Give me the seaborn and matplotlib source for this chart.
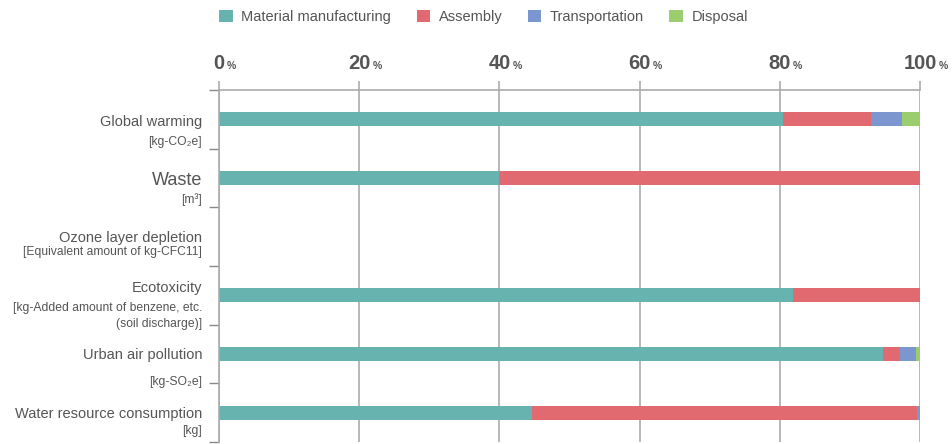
import numpy as np
import pandas as pd
import matplotlib
matplotlib.use('Agg')
import matplotlib.pyplot as plt
import seaborn as sns
from matplotlib.patches import Patch

categories = ['Global warming', 'Waste', 'Ozone layer depletion', 'Ecotoxicity',
              'Urban air pollution', 'Water resource consumption']
units = ['[kg-CO\u2082e]', '[m\u00b3]', '[Equivalent amount of kg-CFC11]',
         '[kg-Added amount of benzene, etc.\n(soil discharge)]', '[kg-SO\u2082e]', '[kg]']
stages = ['Material manufacturing', 'Assembly', 'Transportation', 'Disposal']
material = [80.4, 40.0, 0.0, 81.9, 94.7, 44.6]
assembly = [12.6, 60.0, 0.0, 18.1, 2.4, 55.0]
transport = [4.5, 0.0, 0.0, 0.0, 2.3, 0.4]
disposal = [2.5, 0.0, 0.0, 0.0, 0.6, 0.0]
ticks = [0, 20, 40, 60, 80, 100]

colors = ['#67b3b0', '#e06a6f', '#7c97d0', '#9bcd6f']
text_col = '#555555'
grid_col = '#ababab'

sns.set_theme(style='white')
plt.rcParams['font.family'] = ['Liberation Sans', 'DejaVu Sans']

df = pd.DataFrame({'category': categories, 'Material manufacturing': material,
                   'Assembly': assembly, 'Transportation': transport, 'Disposal': disposal})
cum = df[stages].cumsum(axis=1)
cum['category'] = df['category']

fig = plt.figure(figsize=(9.52, 4.44), dpi=100)
ax = fig.add_axes([219 / 952, 2 / 444, 701 / 952, 352 / 444])

# stacked bars: draw cumulative totals from the back
for stage, c in reversed(list(zip(stages, colors))):
    sns.barplot(data=cum, x=stage, y='category', orient='h', color=c,
                width=0.24, ax=ax, saturation=1, linewidth=0)

ax.set_xlim(0, 100)
ax.set_ylim(5.5, -0.5)
ax.set_xlabel('')
ax.set_ylabel('')

# x axis on top, numbers drawn as text with a small %
ax.xaxis.tick_top()
ax.set_xticks(ticks)
ax.set_xticklabels([])
ax.tick_params(axis='x', which='both', direction='out', length=6.5, width=1.2,
               color=grid_col, top=True, bottom=False)
ax.grid(axis='x', color=grid_col, linewidth=1.2)
ax.set_axisbelow(True)
for t in ticks:
    s = str(t)
    ax.annotate(s, xy=(t, 1), xycoords=ax.get_xaxis_transform(), xytext=(0, 15),
                textcoords='offset points', ha='center', va='baseline',
                fontsize=14.5, fontweight='bold', color=text_col)
    ax.annotate('%', xy=(t, 1), xycoords=ax.get_xaxis_transform(),
                xytext=(len(s) * 4.1 + 1.2, 15), textcoords='offset points',
                ha='left', va='baseline', fontsize=7.5, fontweight='bold', color=text_col)

# y axis: ticks between categories, labels as text
ax.set_yticks(np.arange(-0.5, 6, 1))
ax.set_yticklabels([])
ax.tick_params(axis='y', direction='out', length=7, width=1.0, color='#888888', left=True)

for sp in ['right', 'bottom']:
    ax.spines[sp].set_visible(False)
for sp in ['left', 'top']:
    ax.spines[sp].set_visible(True)
    ax.spines[sp].set_color(grid_col)
    ax.spines[sp].set_linewidth(1.2)

main_dy = [0.04, 0.04, 0.03, -0.12, 0.01, 0.02]
unit_dy = [0.38, 0.36, 0.26, 0.35, 0.47, 0.31]
main_size = [10.5, 13, 10.5, 10.5, 10.5, 10.5]
tr = ax.get_yaxis_transform()
for i, (name, unit) in enumerate(zip(categories, units)):
    ax.text(-0.024, i + main_dy[i], name, transform=tr, ha='right', va='center',
            fontsize=main_size[i], color=text_col)
    ax.text(-0.024, i + unit_dy[i], unit, transform=tr, ha='right', va='center',
            fontsize=8.7, color=text_col, multialignment='right', linespacing=1.5)

handles = [Patch(facecolor=c, edgecolor='none', label=s) for s, c in zip(stages, colors)]
fig.legend(handles=handles, loc='center', bbox_to_anchor=(0.508, 0.962), ncol=4,
           frameon=False, fontsize=10.5, handlelength=0.9, handleheight=0.9,
           handletextpad=0.6, columnspacing=1.75, labelcolor=text_col)

fig.savefig('out.png', dpi=100)
